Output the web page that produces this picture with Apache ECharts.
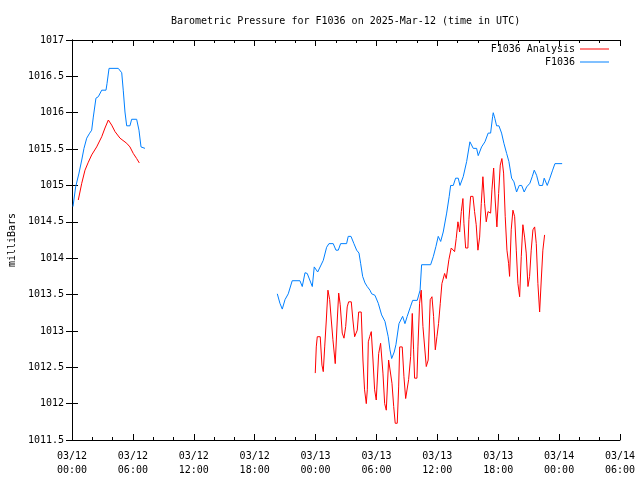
<!DOCTYPE html>
<html>
<head>
<meta charset="utf-8">
<script src="https://cdn.jsdelivr.net/npm/echarts@6/dist/echarts.min.js"></script>
<style>html,body{margin:0;padding:0;background:#fff}#c{width:640px;height:480px}</style>
</head>
<body>
<div id="c"></div>
<script>
// Hours since 03/12 00:00 UTC
const xTickLabels = ['03/12\n00:00','03/12\n06:00','03/12\n12:00','03/12\n18:00','03/13\n00:00','03/13\n06:00','03/13\n12:00','03/13\n18:00','03/14\n00:00','03/14\n06:00'];

const analysisHours1 = [0.62, 0.96, 1.28, 1.61, 1.94, 2.43, 2.93, 3.25, 3.58, 3.91, 4.24, 4.73, 5.39, 5.71, 6.04, 6.37, 6.63];
const analysisValues1 = [1014.8, 1015.03, 1015.21, 1015.32, 1015.42, 1015.53, 1015.67, 1015.79, 1015.9, 1015.83, 1015.74, 1015.65, 1015.58, 1015.53, 1015.44, 1015.37, 1015.31];

const analysisHours2 = [23.97, 24.07, 24.17, 24.46, 24.63, 24.76, 24.9, 25.06, 25.22, 25.39, 25.55, 25.71, 25.94, 26.14, 26.28, 26.43, 26.63, 26.8, 26.97, 27.12, 27.26, 27.52, 27.68, 27.85, 28.11, 28.25, 28.5, 28.67, 28.83, 29.0, 29.1, 29.2, 29.33, 29.49, 29.66, 29.82, 29.98, 30.22, 30.41, 30.64, 30.81, 30.97, 31.2, 31.36, 31.53, 31.7, 31.85, 32.05, 32.19, 32.29, 32.54, 32.71, 32.88, 33.03, 33.17, 33.37, 33.53, 33.66, 33.76, 33.99, 34.09, 34.25, 34.41, 34.58, 34.91, 35.1, 35.3, 35.47, 35.63, 35.8, 35.96, 36.12, 36.29, 36.45, 36.72, 36.88, 37.04, 37.14, 37.37, 37.54, 37.7, 37.86, 38.03, 38.2, 38.36, 38.52, 38.62, 38.79, 39.01, 39.11, 39.28, 39.51, 39.67, 39.83, 40.0, 40.17, 40.33, 40.49, 40.66, 40.82, 40.99, 41.25, 41.38, 41.55, 41.7, 41.87, 42.04, 42.2, 42.36, 42.53, 42.69, 42.86, 43.02, 43.12, 43.28, 43.45, 43.62, 43.78, 43.94, 44.11, 44.27, 44.43, 44.6, 44.76, 44.93, 45.09, 45.25, 45.42, 45.59, 45.75, 45.91, 46.08, 46.24, 46.4, 46.57];
const analysisValues2 = [1012.42, 1012.78, 1012.92, 1012.92, 1012.53, 1012.44, 1012.78, 1013.15, 1013.56, 1013.43, 1013.15, 1012.88, 1012.55, 1013.15, 1013.52, 1013.36, 1012.97, 1012.90, 1013.06, 1013.33, 1013.40, 1013.40, 1013.15, 1012.92, 1013.01, 1013.26, 1013.26, 1012.60, 1012.19, 1012.00, 1012.19, 1012.85, 1012.92, 1012.99, 1012.60, 1012.19, 1012.05, 1012.69, 1012.83, 1012.42, 1012.0, 1011.91, 1012.60, 1012.60, 1012.28, 1011.96, 1011.73, 1011.73, 1012.23, 1012.78, 1012.78, 1012.37, 1012.07, 1012.07, 1012.33, 1012.65, 1013.24, 1012.74, 1012.35, 1012.35, 1012.78, 1013.38, 1013.56, 1013.06, 1012.51, 1012.60, 1013.43, 1013.47, 1013.20, 1012.74, 1012.92, 1013.10, 1013.38, 1013.65, 1013.79, 1013.72, 1013.70, 1013.98, 1014.14, 1014.16, 1014.09, 1014.27, 1014.50, 1014.36, 1014.64, 1014.82, 1014.48, 1014.14, 1014.14, 1014.53, 1014.85, 1014.85, 1014.64, 1014.46, 1014.11, 1014.29, 1014.75, 1015.12, 1014.75, 1014.50, 1014.64, 1014.62, 1014.94, 1015.24, 1014.80, 1014.43, 1014.89, 1015.28, 1015.37, 1015.17, 1014.57, 1014.11, 1013.93, 1013.75, 1014.39, 1014.66, 1014.57, 1014.11, 1013.65, 1013.47, 1014.02, 1014.46, 1014.29, 1014.07, 1013.61, 1013.75, 1014.11, 1014.39, 1014.43, 1014.20, 1013.65, 1013.26, 1013.70, 1014.11, 1014.32];

const stationHours1 = [0.1, 0.36, 0.69, 0.96, 1.18, 1.45, 1.7, 1.94, 2.1, 2.36, 2.59, 2.93, 3.35, 3.45, 3.65, 4.56, 4.9, 5.05, 5.22, 5.39, 5.71, 5.88, 6.37, 6.6, 6.8, 7.19];
const stationValues1 = [1014.71, 1014.98, 1015.17, 1015.35, 1015.51, 1015.65, 1015.71, 1015.76, 1015.94, 1016.2, 1016.22, 1016.31, 1016.31, 1016.4, 1016.61, 1016.61, 1016.55, 1016.31, 1016.01, 1015.82, 1015.82, 1015.91, 1015.91, 1015.76, 1015.53, 1015.51];

const stationHours2 = [20.23, 20.49, 20.72, 20.99, 21.31, 21.7, 22.46, 22.69, 22.96, 23.18, 23.68, 23.87, 24.21, 24.76, 25.09, 25.32, 25.74, 26.01, 26.24, 26.47, 27.06, 27.22, 27.49, 27.78, 28.05, 28.28, 28.44, 28.64, 28.87, 29.09, 29.36, 29.53, 29.85, 30.18, 30.51, 30.84, 31.16, 31.33, 31.5, 31.75, 31.92, 32.22, 32.58, 32.81, 33.03, 33.37, 33.57, 34.02, 34.3, 34.45, 35.34, 35.6, 35.86, 36.09, 36.33, 36.58, 36.92, 37.17, 37.31, 37.57, 37.8, 38.06, 38.23, 38.55, 38.89, 39.21, 39.54, 39.87, 40.03, 40.36, 40.69, 41.01, 41.25, 41.45, 41.51, 41.67, 41.84, 42.07, 42.33, 42.56, 42.83, 43.05, 43.32, 43.55, 43.81, 44.07, 44.31, 44.56, 44.8, 45.12, 45.35, 45.55, 45.78, 46.04, 46.37, 46.53, 46.83, 47.09, 47.36, 47.59, 48.3];
const stationValues2 = [1013.51, 1013.38, 1013.30, 1013.43, 1013.51, 1013.69, 1013.69, 1013.61, 1013.80, 1013.79, 1013.61, 1013.88, 1013.81, 1013.97, 1014.15, 1014.20, 1014.20, 1014.11, 1014.11, 1014.20, 1014.20, 1014.30, 1014.30, 1014.20, 1014.11, 1014.07, 1013.93, 1013.75, 1013.66, 1013.61, 1013.56, 1013.51, 1013.49, 1013.38, 1013.22, 1013.13, 1012.92, 1012.74, 1012.62, 1012.71, 1012.81, 1013.10, 1013.20, 1013.10, 1013.20, 1013.34, 1013.42, 1013.42, 1013.56, 1013.91, 1013.91, 1014.02, 1014.16, 1014.30, 1014.23, 1014.36, 1014.62, 1014.85, 1015.0, 1015.0, 1015.1, 1015.1, 1015.0, 1015.12, 1015.33, 1015.60, 1015.51, 1015.51, 1015.41, 1015.53, 1015.60, 1015.72, 1015.72, 1015.95, 1016.0, 1015.92, 1015.82, 1015.82, 1015.72, 1015.58, 1015.44, 1015.33, 1015.1, 1015.05, 1014.91, 1015.0, 1015.0, 1014.91, 1014.98, 1015.03, 1015.12, 1015.21, 1015.14, 1015.0, 1015.0, 1015.1, 1015.0, 1015.1, 1015.21, 1015.30, 1015.30];

const FONT = 'DejaVu Sans Mono';
const zip = (h, v) => h.map((x, i) => [x, v[i]]);

const chart = echarts.init(document.getElementById('c'), null, {renderer: 'canvas'});

const axisLine = {show: true, lineStyle: {color: '#000', width: 1}};
const tickX = {show: true, inside: true, length: 6, lineStyle: {color: '#000'}};
const minorX = {show: true, splitNumber: 3, length: 3, lineStyle: {color: '#000'}};

const lineSeries = (name, data, color) => ({
  name, type: 'line', data, showSymbol: false, symbol: 'none',
  lineStyle: {color, width: 1}, itemStyle: {color}, animation: false,
  xAxisIndex: 0, yAxisIndex: 0
});

chart.setOption({
  animation: false,
  backgroundColor: '#fff',
  textStyle: {fontFamily: FONT},
  title: {
    text: 'Barometric Pressure for F1036 on 2025-Mar-12 (time in UTC)',
    left: 166, top: 11,
    textStyle: {fontFamily: FONT, fontSize: 10, fontWeight: 'normal', color: '#000'}
  },
  legend: [
    {data: ['F1036 Analysis'], right: 31, top: 44, align: 'right', itemWidth: 29, itemHeight: 1, icon: 'rect',
     textStyle: {fontFamily: FONT, fontSize: 10, color: '#000'}, itemGap: 0, padding: 0},
    {data: ['F1036'], right: 31, top: 57, align: 'right', itemWidth: 29, itemHeight: 1, icon: 'rect',
     textStyle: {fontFamily: FONT, fontSize: 10, color: '#000'}, itemGap: 0, padding: 0}
  ],
  grid: {left: 72, right: 20, top: 40, bottom: 40, containLabel: false, outerBoundsMode: 'none'},
  xAxis: [
    {type: 'value', min: 0, max: 54, interval: 6, position: 'bottom',
     axisLine, axisTick: tickX, minorTick: minorX, splitLine: {show: false},
     axisLabel: {fontFamily: FONT, fontSize: 10, color: '#000', margin: 9, lineHeight: 14,
       formatter: v => xTickLabels[Math.round(v / 6)]}},
    {type: 'value', min: 0, max: 54, interval: 6, position: 'top',
     axisLine, axisTick: tickX, minorTick: minorX, splitLine: {show: false}, axisLabel: {show: false}}
  ],
  yAxis: [
    {type: 'value', min: 1011.5, max: 1017, interval: 0.5, position: 'left',
     axisLine, axisTick: tickX, splitLine: {show: false},
     name: 'milliBars', nameLocation: 'middle', nameGap: 55, nameRotate: 90,
     nameTextStyle: {fontFamily: FONT, fontSize: 10, color: '#000'},
     axisLabel: {fontFamily: FONT, fontSize: 10, color: '#000', margin: 8, formatter: v => String(v)}},
    {type: 'value', min: 1011.5, max: 1017, interval: 0.5, position: 'right',
     axisLine, axisTick: tickX, splitLine: {show: false}, axisLabel: {show: false}}
  ],
  series: [
    lineSeries('F1036 Analysis', zip(analysisHours1, analysisValues1), '#ff0000'),
    lineSeries('F1036 Analysis', zip(analysisHours2, analysisValues2), '#ff0000'),
    lineSeries('F1036', zip(stationHours1, stationValues1), '#0080ff'),
    lineSeries('F1036', zip(stationHours2, stationValues2), '#0080ff')
  ]
});
</script>
</body>
</html>
